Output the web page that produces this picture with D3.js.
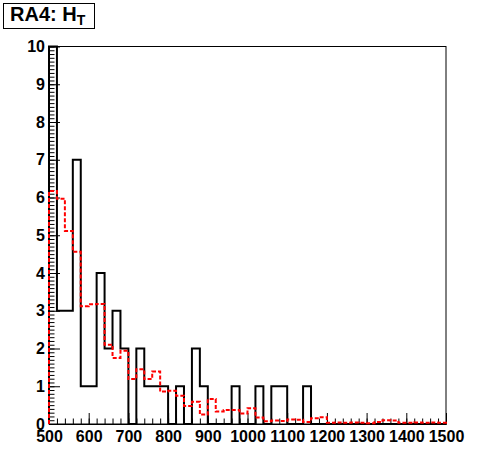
<!DOCTYPE html>
<html><head><meta charset="utf-8">
<script src="https://cdn.jsdelivr.net/npm/d3@7"></script>
<style>
html,body{margin:0;padding:0;background:#fff;}
svg text{font-family:"Liberation Sans",Arial,sans-serif;font-weight:bold;}
</style></head>
<body>
<svg id="c" width="496" height="472"></svg>
<script>
// bin lower edges (width 20) from 500 to 1480
const binEdges = d3.range(500, 1500, 20);
const binWidth = 20;
const dataCounts = [10,3,3,7,1,1,4,2,3,2, 0,2,1,1,1,0,1,0,2,1, 0,0,0,1,0,0,1,0,1,1, 0,0,1,0,0,0,0,0,0,0, 0,0,0,0,0,0,0,0,0,0];
const expected = [6.17,5.97,5.11,4.56,3.12,3.17,3.18,2.10,1.75,1.94,
                  1.19,1.45,1.19,1.39,0.86,0.88,0.75,0.48,0.59,0.25,
                  0.66,0.33,0.37,0.37,0.28,0.42,0.17,0.07,0.09,0.08,
                  0.12,0.11,0.05,0.15,0.18,0.03,0.04,0.03,0.04,0.03,
                  0.02,0.05,0.10,0.09,0.03,0.03,0.04,0.03,0.04,0.03];
const xTicks = [500,600,700,800,900,1000,1100,1200,1300,1400,1500];
const yTicks = [0,1,2,3,4,5,6,7,8,9,10];
const titleMain = "RA4: H";
const titleSub = "T";

const svg = d3.select("#c");
const L = 49, R = 446, T = 46.5, B = 424;
const x = d3.scaleLinear().domain([500,1500]).range([L,R]);
const y = d3.scaleLinear().domain([0,10]).range([B,T]);

// frame
svg.append("rect").attr("x",L).attr("y",T).attr("width",R-L).attr("height",B-T)
  .attr("fill","none").attr("stroke","#000").attr("stroke-width",1);

function stepPoints(vals){
  const pts=[[500,0]];
  binEdges.forEach((e,i)=>{pts.push([e,vals[i]]);pts.push([e+binWidth,vals[i]]);});
  pts.push([1500,0]);
  return pts;
}
const line = d3.line().x(d=>x(d[0])).y(d=>y(d[1]));

// axes
const xMinor = svg.append("g").attr("transform",`translate(0,${B})`)
  .call(d3.axisBottom(x).tickValues(d3.range(500,1501,20)).tickSizeInner(-5.5).tickSizeOuter(0).tickFormat(""));
const xMajor = svg.append("g").attr("transform",`translate(0,${B})`)
  .call(d3.axisBottom(x).tickValues(xTicks).tickSizeInner(-11).tickSizeOuter(0).tickPadding(7).tickFormat(d3.format("d")));
const yMinor = svg.append("g").attr("transform",`translate(${L},0)`)
  .call(d3.axisLeft(y).tickValues(d3.range(0,10.001,0.1)).tickSizeInner(-5.5).tickSizeOuter(0).tickFormat(""));
const yMajor = svg.append("g").attr("transform",`translate(${L},0)`)
  .call(d3.axisLeft(y).tickValues(yTicks).tickSizeInner(-11).tickSizeOuter(0).tickPadding(4).tickFormat(d3.format("d")));
svg.selectAll(".domain").attr("stroke","#000").attr("stroke-width",1);
svg.selectAll(".tick line").attr("stroke","#000").attr("stroke-width",1);
svg.selectAll(".tick text").attr("font-size",16).attr("fill","#000")
  .style("font-family","'Liberation Sans',Arial,sans-serif").style("font-weight","bold");

// histograms
svg.append("path").attr("d",line(stepPoints(dataCounts)))
  .attr("fill","none").attr("stroke","#000").attr("stroke-width",2);
svg.append("path").attr("d",line(stepPoints(expected)))
  .attr("fill","none").attr("stroke","#ff0000").attr("stroke-width",2).attr("stroke-dasharray","4,2");

// title box
svg.append("rect").attr("x",3.5).attr("y",3.5).attr("width",91).attr("height",25)
  .attr("fill","#fff").attr("stroke","#000").attr("stroke-width",1);
const t = svg.append("text").attr("x",10).attr("y",21).attr("font-size",20).attr("fill","#000");
t.append("tspan").text(titleMain);
t.append("tspan").attr("font-size",14).attr("dy",4).text(titleSub);
</script>
</body></html>
